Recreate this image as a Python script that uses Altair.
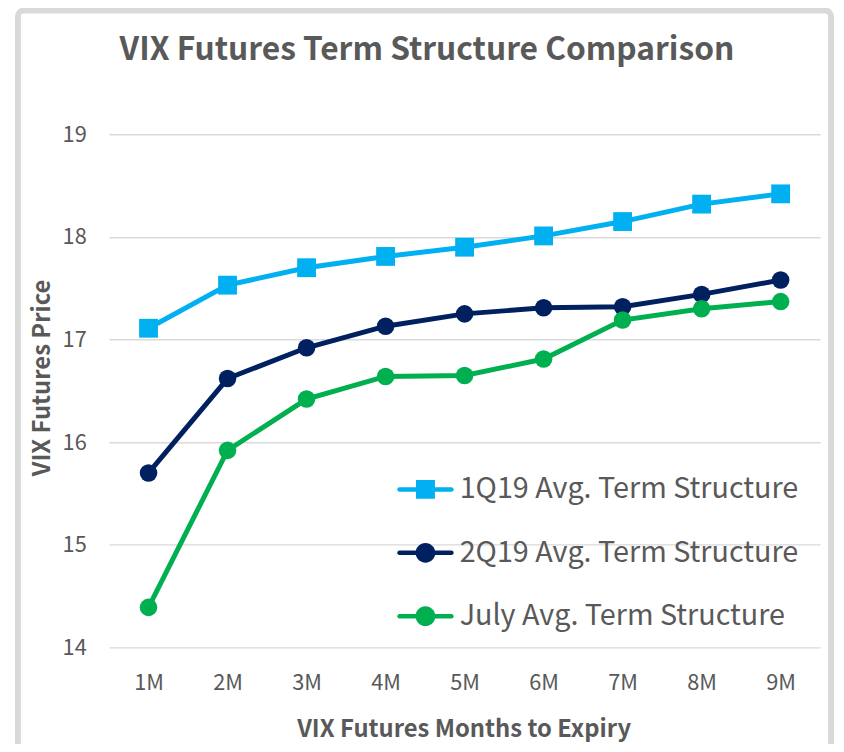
import altair as alt
import pandas as pd

months = ["1M", "2M", "3M", "4M", "5M", "6M", "7M", "8M", "9M"]
series_names = ["1Q19 Avg. Term Structure", "2Q19 Avg. Term Structure", "July Avg. Term Structure"]
q1_values = [17.11, 17.53, 17.70, 17.81, 17.90, 18.01, 18.15, 18.32, 18.42]
q2_values = [15.70, 16.62, 16.92, 17.13, 17.25, 17.31, 17.32, 17.44, 17.58]
july_values = [14.39, 15.92, 16.42, 16.64, 16.65, 16.81, 17.19, 17.30, 17.37]
colors = ["#00B0F0", "#002060", "#00B050"]
y_ticks = [14, 15, 16, 17, 18, 19]

title_text = "VIX Futures Term Structure Comparison"
x_title = "VIX Futures Months to Expiry"
y_title = "VIX Futures Price"

FONT = "Noto Sans CJK SC"
TXT = "#595959"

rows = []
for name, vals in zip(series_names, [q1_values, q2_values, july_values]):
    for m, v in zip(months, vals):
        rows.append({"month": m, "price": v, "series": name})
df = pd.DataFrame(rows)

W, H = 718, 518

x_enc = alt.X(
    "month:N",
    sort=months,
    scale=alt.Scale(type="point", domain=months, padding=0.5),
    axis=alt.Axis(
        title=x_title, labelAngle=0, domain=False, ticks=False, tickSize=0,
        labelPadding=36, labelBaseline="middle", labelFont=FONT, labelFontSize=22,
        labelColor=TXT, titleFont=FONT, titleFontSize=24, titleFontWeight="bold",
        titleColor=TXT, titleX=358, titleY=83, titleBaseline="middle",
        titleAlign="center", grid=False,
    ),
)
y_enc = alt.Y(
    "price:Q",
    scale=alt.Scale(domain=[14, 19], nice=False, zero=False),
    axis=alt.Axis(
        title=y_title, values=y_ticks, domain=False, ticks=False, tickSize=0,
        labelPadding=23, labelFont=FONT, labelFontSize=22, labelColor=TXT,
        titleFont=FONT, titleFontSize=24, titleFontWeight="bold", titleColor=TXT,
        titleX=-67.5, titleY=245.5, titleAngle=-90, titleAlign="center",
        titleBaseline="middle", grid=True, gridColor="#D9D9D9", gridWidth=1.5,
    ),
)

base = alt.Chart(df)

frame = base.mark_rect(
    fill="white", fillOpacity=0, stroke="#D9D9D9", strokeWidth=6, cornerRadius=6
).encode(
    x=alt.value(-92), x2=alt.value(729), y=alt.value(-125), y2=alt.value(640)
).transform_filter("datum.month == '1M' && datum.series == '1Q19 Avg. Term Structure'")

layers = [frame]
for i, (name, col) in enumerate(zip(series_names, colors)):
    sub = base.transform_filter(alt.datum.series == name)
    layers.append(sub.mark_line(color=col, strokeWidth=5).encode(x=x_enc, y=y_enc))
    if i == 0:
        layers.append(sub.mark_square(color=col, size=361, opacity=1).encode(x=x_enc, y=y_enc))
    else:
        layers.append(sub.mark_circle(color=col, size=314, opacity=1).encode(x=x_enc, y=y_enc))

line_path = "M-0.92,-0.08 H0.92 A0.08,0.08 0 0,1 0.92,0.08 H-0.92 A0.08,0.08 0 0,1 -0.92,-0.08 Z"
square_path = "M-0.335,-0.335 H0.335 V0.335 H-0.335 Z"
circle_path = "M-0.35,0 A0.35,0.35 0 1,1 0.35,0 A0.35,0.35 0 1,1 -0.35,0 Z"
shape_range = [line_path + " " + square_path, line_path + " " + circle_path, line_path + " " + circle_path]

legend_cfg = dict(
    title=None, orient="none", legendX=291, legendY=330, padding=0,
    labelFont=FONT, labelFontSize=29, labelColor=TXT, labelOffset=6,
    symbolSize=3249, symbolStrokeWidth=0, rowPadding=20, labelLimit=500,
)

legend_layer = base.mark_point(filled=True, opacity=1, strokeWidth=0).encode(
    x=x_enc,
    y=y_enc,
    color=alt.Color("series:N", scale=alt.Scale(domain=series_names, range=colors),
                    legend=alt.Legend(**legend_cfg)),
    shape=alt.Shape("series:N", scale=alt.Scale(domain=series_names, range=shape_range),
                    legend=alt.Legend(**legend_cfg)),
).transform_filter("false")
layers.append(legend_layer)

title_layer = base.mark_text(
    font=FONT, fontSize=32, fontWeight="bold", color=TXT, align="center", baseline="alphabetic"
).encode(
    x=alt.value(321), y=alt.value(-75), text=alt.value(title_text)
).transform_filter("datum.month == '1M' && datum.series == '1Q19 Avg. Term Structure'")
layers.append(title_layer)

chart = alt.layer(*layers).properties(
    width=W, height=H,
    autosize=alt.AutoSizeParams(type="none"),
    padding={"left": 102, "top": 124, "right": 16, "bottom": 94},
    background="white",
).configure_view(stroke=None)

chart.save("out.html", embed_options={"renderer": "svg", "actions": False})
